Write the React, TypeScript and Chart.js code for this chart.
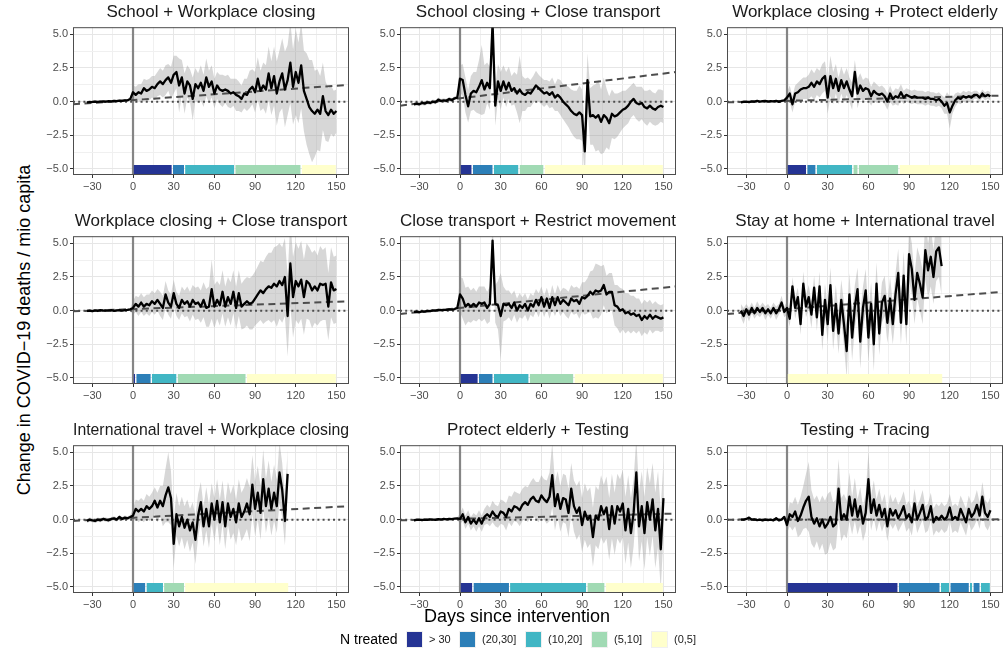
import React, { useEffect, useRef } from "react";
import { Chart, registerables } from "chart.js";

Chart.register(...registerables);

const FONT = '"Liberation Sans", Arial, Helvetica, sans-serif';

// ---------------- DATA ----------------
// sampled days: -34, -32, ..., 150
const DAYS: number[] = Array.from({ length: 93 }, (_, i) => -34 + 2 * i);

const TITLES = [
  "School + Workplace closing",
  "School closing + Close transport",
  "Workplace closing + Protect elderly",
  "Workplace closing + Close transport",
  "Close transport + Restrict movement",
  "Stay at home + International travel",
  "International travel + Workplace closing",
  "Protect elderly + Testing",
  "Testing + Tracing",
];

const X_MAJOR = [-30, 0, 30, 60, 90, 120, 150];
const X_MINOR = [-15, 15, 45, 75, 105, 135];
const Y_MAJOR = [-5, -2.5, 0, 2.5, 5];
const Y_MINOR = [-3.75, -1.25, 1.25, 3.75];

const LEGEND_LABELS = ["> 30", "(20,30]", "(10,20]", "(5,10]", "(0,5]"];
const LEGEND_COLORS = ["#253494", "#2C7FB8", "#41B6C4", "#A1DAB4", "#FFFFCC"];

// dashed trend line: value at left edge and at right edge of the panel
const TREND_START = [-0.2, -0.3, -0.05, -0.05, -0.25, -0.25, -0.1, -0.05, 0.0];
const TREND_END = [1.25, 2.2, 0.45, 0.7, 1.8, 1.4, 1.0, 0.45, 0.02];

const MEAN_SWC = [
  -0.05, -0.03, -0.02, 0.0, -0.02, 0.0, 0.02, 0.0, 0.03, 0.02,
  0.05, 0.04, 0.08, 0.06, 0.1, 0.1, 0.2, 0.7,
  0.5, 0.7, 0.6, 1.0, 0.8, 0.9, 1.1, 1.0, 1.3, 1.5,
  1.3, 1.6, 1.8, 1.4, 2.0, 2.2, 1.2, 1.8, 0.6, 1.5,
  1.2, 0.2, 1.3, 1.0, 1.4, 0.8, 1.8, 1.1, 1.5, 0.6,
  1.2, 0.9, 0.8, 0.9, 0.8, 0.6, 0.7, 0.5, 0.4, 0.2,
  0.6, 0.5, 0.9, 1.1, 0.7, 1.7, 0.8, 1.2, 0.9, 2.1,
  1.0, 1.9, 0.6, 1.5, 2.1, 0.9, 1.6, 2.9, 1.1, 2.2,
  1.4, 2.7, 0.8, 0.2, -0.4, -0.7, -0.9, -0.6, -0.9, 0.4,
  -0.7, -1.0, -0.6, -0.9, -0.7,
];
const CI_SWC = [
  0.1, 0.1, 0.1, 0.1, 0.1, 0.1, 0.1, 0.1, 0.1, 0.1,
  0.1, 0.1, 0.1, 0.1, 0.1, 0.1, 0.1, 0.5,
  0.6, 0.6, 0.7, 0.7, 0.8, 0.8, 0.8, 0.9, 0.9, 1.0,
  1.0, 1.1, 1.0, 1.2, 1.4, 1.2, 2.0, 1.3, 1.5, 1.2,
  1.2, 1.6, 1.2, 1.1, 1.3, 1.2, 1.4, 1.2, 1.2, 1.1,
  1.0, 1.1, 1.2, 1.0, 1.2, 1.1, 1.0, 1.2, 1.1, 1.0,
  1.1, 1.2, 1.4, 1.3, 1.5, 1.6, 1.5, 1.7, 1.8, 2.0,
  2.0, 2.2, 2.4, 2.3, 2.6, 2.8, 2.6, 3.0, 2.8, 3.2,
  3.0, 3.2, 3.0, 3.4, 3.5, 3.8, 3.2, 3.0, 2.8, 2.5,
  2.2, 2.0, 1.8, 1.7, 1.6,
];

const MEAN_SCCT = [
  -0.2, -0.15, -0.2, -0.1, -0.15, -0.05, -0.1, 0.0, -0.05, 0.15,
  0.05, 0.1, 0.05, 0.2, 0.1, 0.25, 0.3, 1.7,
  1.6, 0.5, -0.35, 0.6, 0.8, 0.7, 1.1, 1.6, 0.9, 1.4,
  1.0, 5.8, -0.3, 1.5, 0.8, 1.5, 0.9, 1.4, 0.8, 1.0,
  0.6, 0.9, 0.6, 0.5, 0.7, 0.6, 0.9, 1.2, 1.0, 0.8,
  0.6, 0.7, 0.5, 0.7, 0.3, 0.5, 0.3, 0.0, -0.2, -0.4,
  -0.7, -0.9, -1.0, -0.8, -1.0, -3.7, 1.6, -1.1, -1.0, -1.2,
  -1.0, -1.5, -1.0, -1.2, -1.6, -0.9, -1.1, -1.0, -0.8, -0.6,
  -0.5, -0.3, 0.0, 0.2, -0.1, -0.2, -0.1, -0.4, -0.5, -0.3,
  -0.5, -0.6, -0.4, -0.3, -0.4,
];
const CI_SCCT = [
  0.15, 0.15, 0.15, 0.15, 0.15, 0.15, 0.15, 0.15, 0.15, 0.15,
  0.15, 0.15, 0.15, 0.15, 0.15, 0.15, 0.15, 1.0,
  1.2, 1.3, 1.2, 1.3, 1.4, 1.5, 2.0, 2.6, 1.8, 1.5,
  1.6, 1.8, 1.5, 1.3, 1.4, 1.2, 1.3, 1.2, 1.1, 1.2,
  1.4, 2.5, 1.3, 1.2, 1.1, 1.0, 1.0, 1.1, 1.0, 1.0,
  1.0, 0.9, 1.0, 1.1, 1.0, 1.2, 1.3, 1.3, 1.4, 1.5,
  1.6, 1.7, 1.8, 2.0, 1.9, 2.0, 2.0, 2.1, 2.2, 2.5,
  2.6, 2.4, 2.8, 2.2, 2.0, 1.8, 1.7, 1.6, 1.5, 1.4,
  1.3, 1.3, 1.2, 1.2, 1.2, 1.3, 1.2, 1.2, 1.3, 1.2,
  1.2, 1.2, 1.3, 1.2, 1.2,
];

const MEAN_WCPE = [
  -0.05, -0.02, 0.0, -0.03, 0.02, 0.0, 0.05, 0.0, 0.03, 0.05,
  0.0, 0.04, 0.02, 0.05, -0.02, 0.05, 0.1, 0.3,
  0.6, -0.2, 0.6, 0.7, 0.9, 1.0, 1.0, 1.1, 1.4, 1.1,
  1.5, 1.3, 1.7, 1.9, 0.3, 1.9, 1.0, 1.7, 0.8, 1.6,
  1.0, 1.5, 0.9, 0.4, 2.2, 0.6, 1.2, 0.8, 1.0, 0.9,
  0.4, 0.8, 0.6, 0.5, 0.6, 0.4, 0.0, 0.6, 0.2, 0.4,
  0.3, 0.7, 0.3, 0.5, 0.4, 0.3, 0.4, 0.3, 0.3, 0.3,
  0.2, 0.3, 0.2, 0.2, 0.1, 0.2, 0.0, -0.3, -0.1, -0.8,
  -0.3, 0.1, 0.3, 0.2, 0.4, 0.3, 0.4, 0.3, 0.5, 0.5,
  0.3, 0.6, 0.4, 0.5, 0.4,
];
const CI_WCPE = [
  0.06, 0.06, 0.06, 0.06, 0.06, 0.06, 0.06, 0.06, 0.06, 0.06,
  0.06, 0.06, 0.06, 0.06, 0.06, 0.06, 0.06, 0.4,
  0.6, 0.6, 0.6, 0.7, 0.7, 0.8, 0.8, 0.9, 1.0, 1.0,
  1.0, 1.0, 1.1, 1.1, 1.2, 1.5, 1.2, 1.1, 1.0, 1.0,
  1.0, 1.0, 0.9, 1.0, 0.9, 1.1, 0.9, 0.8, 0.8, 0.8,
  0.7, 0.7, 0.7, 0.6, 0.6, 0.6, 0.6, 0.6, 0.5, 0.6,
  0.6, 0.6, 0.5, 0.5, 0.5, 0.5, 0.5, 0.5, 0.5, 0.5,
  0.5, 0.5, 0.5, 0.5, 0.5, 0.5, 0.5, 0.6, 0.8, 1.2,
  0.6, 0.5, 0.4, 0.4, 0.4, 0.4, 0.4, 0.4, 0.3, 0.3,
  0.3, 0.3, 0.3, 0.3, 0.3,
];

const MEAN_WCCT = [
  -0.02, 0.0, -0.03, 0.02, -0.02, 0.03, 0.0, 0.02, 0.0, 0.03,
  -0.01, 0.02, 0.04, 0.0, 0.03, 0.05, 0.1, 0.2,
  0.5, 0.3, 0.6, 0.3, 0.5, 0.4, 0.7, 0.5, 0.8, 0.5,
  0.2, 1.2, 0.6, 0.3, 1.3, 0.5, 0.2, 0.8, 0.5, 0.7,
  0.3, 0.8, 0.5, 0.6, 0.3, 0.8, 0.2, 0.3, 1.6, 0.3,
  0.8, 0.4, 1.4, 0.3, 1.0, 0.5, 1.4, 0.2, 1.3, 0.3,
  0.5, 0.7, 0.5, 0.6, 0.9, 1.2, 1.5, 1.3, 1.6, 1.8,
  1.7, 2.0, 1.8, 2.2, 1.9, 2.5, -0.4, 3.5, 1.0, 2.2,
  1.8, 2.3, 1.0, 2.2, 2.0, 1.5, 1.8, 1.5, 2.0, 1.9,
  2.0, 0.3, 2.1, 1.5, 1.6,
];
const CI_WCCT = [
  0.1, 0.1, 0.1, 0.1, 0.1, 0.1, 0.1, 0.1, 0.1, 0.1,
  0.1, 0.1, 0.1, 0.1, 0.1, 0.1, 0.1, 0.5,
  0.6, 0.7, 0.7, 0.7, 0.7, 0.8, 0.8, 0.8, 0.8, 0.9,
  0.9, 1.0, 0.9, 0.9, 1.0, 0.9, 0.9, 1.0, 1.0, 1.1,
  1.1, 1.1, 1.2, 1.2, 1.2, 1.3, 1.4, 1.5, 2.2, 1.6,
  1.4, 1.5, 1.6, 1.5, 1.5, 1.6, 1.6, 1.6, 1.7, 1.7,
  1.8, 1.8, 1.9, 2.0, 2.0, 2.1, 2.2, 2.3, 2.4, 2.5,
  2.6, 2.7, 3.0, 2.8, 2.8, 2.9, 3.0, 3.2, 3.0, 2.9,
  2.8, 2.9, 2.8, 2.8, 2.7, 2.8, 2.7, 2.6, 2.8, 2.6,
  2.7, 2.5, 2.6, 2.5, 2.5,
];

const MEAN_CTRM = [
  -0.1, -0.08, -0.12, -0.05, -0.08, -0.02, -0.04, 0.02, 0.0, 0.05,
  0.03, 0.06, 0.05, 0.1, 0.08, 0.12, 0.2, 1.2,
  0.9, 0.3, 0.5, 0.3, 0.5, 0.3, 0.6, 0.5, 0.6, 0.2,
  0.5, 5.2, 0.5, 0.4, -0.4, 0.5, 0.4, 0.5, 0.2, 0.6,
  0.0, 0.4, 0.2, 0.5, 0.0, 0.5, 0.3, 0.8, 0.4, 1.0,
  0.3, 0.9, 0.2, 1.0, 0.4, 1.0, 0.5, 0.8, 0.6, 0.4,
  0.9, 0.7, 0.8, 0.5, 1.0, 0.9, 1.1, 1.4, 1.2, 1.5,
  1.4, 1.5, 1.9, 1.2, 1.4, 1.4, 0.4, 0.3, 0.0, 0.1,
  -0.2, -0.1, -0.3, -0.2, -0.4, -0.3, -0.7, -0.4, -0.6, -0.3,
  -0.6, -0.4, -0.5, -0.6, -0.5,
];
const CI_CTRM = [
  0.1, 0.1, 0.1, 0.1, 0.1, 0.1, 0.1, 0.1, 0.1, 0.1,
  0.1, 0.1, 0.1, 0.1, 0.1, 0.1, 0.1, 1.3,
  1.5, 1.4, 1.3, 1.2, 1.2, 1.1, 1.2, 1.3, 1.2, 1.2,
  1.3, 1.5, 1.4, 1.8, 3.2, 1.3, 1.1, 1.0, 1.0, 0.9,
  0.9, 0.9, 0.8, 0.8, 0.8, 0.8, 0.8, 0.8, 0.9, 0.8,
  0.8, 0.8, 0.8, 0.9, 0.8, 0.9, 0.9, 0.9, 1.0, 1.0,
  1.0, 1.0, 1.0, 1.1, 1.1, 1.2, 1.3, 1.5, 1.8, 2.0,
  2.0, 1.8, 1.5, 1.4, 1.4, 1.4, 1.5, 1.6, 1.7, 1.5,
  1.5, 1.4, 1.4, 1.3, 1.3, 1.2, 1.2, 1.2, 1.2, 1.1,
  1.1, 1.1, 1.0, 1.0, 1.0,
];

const MEAN_SHIT = [
  0.0, -0.4, 0.1, -0.3, 0.2, -0.2, 0.2, -0.1, 0.2, -0.2,
  0.1, -0.2, 0.2, -0.2, 0.1, 0.6, -0.1, 0.2,
  -0.6, 1.8, 0.2, 1.0, -1.0, 2.0, 0.3, 1.0, -0.3, 1.7,
  -0.5, 1.8, -1.8, 0.8, -1.0, 1.9, -1.5, 0.5, -1.7, 0.8,
  -1.0, -3.0, 1.2, -2.0, 0.3, 1.6, -2.3, 0.2, 1.5, -2.0,
  0.5, -2.5, 2.0, -1.7, 0.6, 1.1, -0.9, 0.9, -1.0, 1.2,
  2.8, -0.9, 2.6, -1.0, 4.2, 3.1, 0.8, 2.8, 2.0, 1.0,
  4.5, 3.0, 4.0, 2.5, 4.4, 4.7, 3.3,
];
const CI_SHIT = [
  0.5, 0.6, 0.4, 0.5, 0.4, 0.4, 0.5, 0.4, 0.4, 0.5,
  0.4, 0.4, 0.4, 0.5, 0.4, 0.5, 0.4, 0.5,
  0.6, 0.7, 0.8, 0.7, 0.8, 0.9, 0.8, 0.9, 1.0, 0.9,
  1.0, 1.1, 1.2, 1.2, 1.3, 1.3, 1.4, 1.4, 1.5, 1.5,
  1.6, 2.0, 1.6, 1.7, 1.6, 1.6, 2.0, 1.6, 1.6, 1.8,
  1.6, 2.0, 1.6, 1.6, 1.5, 1.5, 1.5, 1.6, 1.5, 1.6,
  1.8, 1.6, 1.8, 1.6, 2.0, 1.9, 1.8, 1.9, 2.0, 2.0,
  2.2, 2.0, 2.2, 2.0, 2.2, 2.2, 2.2,
];

const MEAN_ITWC = [
  -0.1, 0.0, -0.05, -0.1, 0.0, -0.05, 0.05, 0.0, -0.05, 0.05,
  0.1, 0.0, 0.2, 0.05, 0.15, 0.1, 0.2, 0.3,
  0.8, 0.6, 0.8, 0.6, 1.0, 0.8, 1.0, 1.4, 0.9, 1.4,
  1.0, 1.8, 2.4, 1.6, -1.8, 0.4, -0.5, 0.2, -0.6, 0.0,
  -0.8, -0.2, -1.5, 0.3, 1.3, -0.5, 0.8, -0.5, 1.2, 0.0,
  1.4, -0.2, 1.3, -0.5, 1.2, 0.2, 0.8, -0.2, 1.2, 0.2,
  0.6, 1.2, 0.4, 2.6, 0.8, 2.0, 0.5, 3.0, 1.0, 2.3,
  0.8, 2.0, 1.0, 3.5, 2.2, -0.1, 3.4,
];
const CI_ITWC = [
  0.15, 0.15, 0.15, 0.15, 0.15, 0.15, 0.15, 0.15, 0.15, 0.15,
  0.15, 0.15, 0.15, 0.15, 0.15, 0.15, 0.15, 0.5,
  0.7, 0.8, 0.8, 0.8, 0.9, 0.9, 1.0, 1.0, 1.1, 1.1,
  1.5, 2.0, 2.6, 2.0, 1.8, 1.6, 1.5, 1.5, 1.6, 1.5,
  1.6, 1.5, 1.8, 1.6, 1.5, 1.5, 1.6, 1.6, 1.5, 1.6,
  1.6, 1.7, 1.6, 1.7, 1.6, 1.7, 1.8, 1.7, 1.8, 1.8,
  1.8, 1.9, 2.0, 2.2, 2.0, 2.0, 2.0, 2.2, 2.0, 2.1,
  2.0, 2.1, 2.0, 2.3, 2.0, 1.8, 1.8,
];

const MEAN_PET = [
  -0.05, -0.02, 0.0, -0.03, 0.0, -0.02, 0.02, 0.0, -0.02, 0.03,
  0.0, 0.05, 0.02, 0.06, 0.03, 0.08, 0.1, 0.05,
  0.4, -0.2, 0.2, -0.3, 0.0, -0.3, 0.1, -0.3, 0.2, 0.4,
  0.2, 0.6, 0.3, 0.2, 0.6, 0.5, 0.2, 0.8, 0.6, 1.0,
  0.9, 0.7, 1.1, 1.3, 1.1, 1.5, 1.7, 1.4, 1.3, 1.8,
  1.5, 1.3, 1.7, 3.3, 1.0, 1.9, 0.8, 1.6, 1.5, 0.5,
  2.3, 1.0, 0.5, 0.9, -0.4, 0.6, 0.0, 0.3, -1.3, 0.3,
  0.0, 1.0, 0.4, 0.9, -0.7, 1.0, -0.3, 1.0, 0.6, 1.2,
  -0.8, 0.8, -1.0, 0.5, 3.5, -0.5, 1.0, -1.0, 1.3, 0.0,
  1.5, -0.8, 0.8, -2.2, 1.6,
];
const CI_PET = [
  0.08, 0.08, 0.08, 0.08, 0.08, 0.08, 0.08, 0.08, 0.08, 0.08,
  0.08, 0.08, 0.08, 0.08, 0.08, 0.08, 0.08, 0.4,
  0.5, 0.5, 0.5, 0.5, 0.5, 0.6, 0.6, 0.6, 0.6, 0.7,
  0.7, 0.8, 0.8, 0.8, 0.9, 0.9, 1.0, 1.0, 1.1, 1.1,
  1.1, 1.2, 1.2, 1.2, 1.3, 1.3, 1.4, 1.4, 1.5, 1.5,
  1.5, 1.6, 1.8, 2.4, 1.8, 1.7, 1.7, 1.8, 1.8, 1.8,
  1.9, 1.9, 2.0, 2.0, 2.0, 2.1, 2.1, 2.1, 2.2, 2.2,
  2.2, 2.3, 2.2, 2.3, 2.3, 2.4, 2.3, 2.4, 2.4, 2.5,
  2.5, 2.5, 2.6, 2.5, 2.6, 2.6, 2.6, 2.7, 2.6, 2.7,
  2.7, 2.8, 2.8, 3.0, 2.8,
];

const MEAN_TT = [
  0.0, 0.0, 0.05, 0.15, 0.0, 0.02, -0.03, 0.0, -0.05, 0.0,
  -0.03, 0.0, -0.05, 0.1, -0.05, 0.0, 0.2, -0.4,
  0.4, 0.2, 0.6, -0.1, 0.3, 0.9, 1.4, 1.7, 0.2, -0.3,
  0.1, -0.5, 0.0, -0.6, -0.3, 0.2, -0.5, -0.3, 2.3, 0.0,
  0.4, 0.0, 1.7, 0.3, 1.5, 0.2, 1.0, -0.3, 0.5, 3.0,
  0.5, 1.5, 0.3, 1.1, 0.2, 0.8, -0.5, 0.8, 0.3, 0.7,
  0.1, 0.5, 1.0, 0.1, 0.4, -0.2, 1.2, 0.0, 0.5, 1.1,
  0.0, 0.2, 1.0, -0.2, 0.2, 0.0, 0.3, 0.0, 0.2, 0.9,
  0.0, 0.2, 0.0, 0.8, 0.3, -0.2, 0.8, 0.2, 0.5, 1.1,
  0.3, 1.7, 0.5, 0.2, 0.7,
];
const CI_TT = [
  0.08, 0.08, 0.08, 0.08, 0.08, 0.08, 0.08, 0.08, 0.08, 0.08,
  0.08, 0.08, 0.08, 0.08, 0.08, 0.08, 0.08, 0.6,
  0.9, 1.0, 1.1, 1.2, 1.4, 1.6, 2.0, 2.6, 2.0, 1.8,
  1.7, 1.8, 1.8, 2.0, 2.2, 1.9, 1.8, 1.8, 2.2, 1.6,
  1.5, 1.4, 1.8, 1.4, 1.6, 1.3, 1.4, 1.3, 1.4, 2.0,
  1.3, 1.4, 1.2, 1.2, 1.1, 1.1, 1.1, 1.1, 1.0, 1.0,
  1.0, 1.0, 1.1, 1.0, 1.0, 1.0, 1.1, 1.0, 1.0, 1.1,
  1.0, 1.0, 1.0, 1.0, 1.0, 1.0, 1.0, 1.0, 1.0, 1.0,
  1.0, 1.0, 1.0, 1.0, 1.0, 1.0, 1.0, 1.0, 1.0, 1.1,
  1.0, 1.1, 1.0, 1.0, 1.0,
];

// treated-count segments: [start day, end day, category index into LEGEND_LABELS]
const SEG_SWC = [[0, 29, 0], [29, 38, 1], [38, 75, 2], [75, 124, 3], [124, 150, 4]];
const SEG_SCCT = [[0, 9, 0], [9, 24.5, 1], [24.5, 43.5, 2], [43.5, 62, 3], [62, 150, 4]];
const SEG_WCPE = [[0, 14.5, 0], [14.5, 21.5, 1], [21.5, 48.5, 2], [48.5, 52.5, 3], [52.5, 82.5, 3], [82.5, 150, 4]];
const SEG_WCCT = [[0, 2, 0], [2, 13.5, 1], [13.5, 32.5, 2], [32.5, 83.5, 3], [83.5, 150, 4]];
const SEG_CTRM = [[0, 13.5, 0], [13.5, 24.5, 1], [24.5, 51, 2], [51, 84, 3], [84, 150, 4]];
const SEG_SHIT = [[0, 115, 4]];
const SEG_ITWC = [[0, 9.5, 1], [9.5, 22.5, 2], [22.5, 38, 3], [38, 115, 4]];
const SEG_PET = [[0, 9.5, 0], [9.5, 36.5, 1], [36.5, 93.5, 2], [93.5, 107, 3], [107, 150, 4]];
const SEG_TT = [[0, 82, 0], [82, 113, 1], [113, 120, 2], [120, 134.5, 1], [134.5, 137, 2], [137, 142.5, 1], [142.5, 150, 2]];

const MEANS = [MEAN_SWC, MEAN_SCCT, MEAN_WCPE, MEAN_WCCT, MEAN_CTRM, MEAN_SHIT, MEAN_ITWC, MEAN_PET, MEAN_TT];
const CIS = [CI_SWC, CI_SCCT, CI_WCPE, CI_WCCT, CI_CTRM, CI_SHIT, CI_ITWC, CI_PET, CI_TT];
const SEGS = [SEG_SWC, SEG_SCCT, SEG_WCPE, SEG_WCCT, SEG_CTRM, SEG_SHIT, SEG_ITWC, SEG_PET, SEG_TT];

// ---------------- LAYOUT ----------------
const X_MIN = -44.25;
const X_MAX = 159.25;
const Y_MIN = -5.45;
const Y_MAX = 5.53;
const TILE_TOP = -4.7;
const TILE_BOTTOM = -5.37;
const COL_LEFT = [35, 362, 689];
const ROW_TOP = [0, 209, 418];
const CANVAS_W = 316;
const CANVAS_H = 195;

const fmtX = (v: number) => (v < 0 ? "\u2212" + Math.abs(v) : String(v));
const fmtY = (v: number) => (v < 0 ? "\u2212" + Math.abs(v).toFixed(1) : v.toFixed(1));

const framePlugin = {
  id: "frame",
  afterDatasetsDraw(chart: any) {
    const { ctx, chartArea: a } = chart;
    ctx.save();
    ctx.strokeStyle = "#4D4D4D";
    ctx.lineWidth = 1;
    ctx.strokeRect(a.left + 0.5, a.top + 0.5, a.right - a.left - 1, a.bottom - a.top - 1);
    ctx.restore();
  },
};

function Panel({ idx }: { idx: number }) {
  const ref = useRef<HTMLCanvasElement | null>(null);
  useEffect(() => {
    if (!ref.current) return;
    const mean = MEANS[idx];
    const ci = CIS[idx];
    const segs = SEGS[idx];
    const line = mean.map((v, i) => ({ x: DAYS[i], y: v }));
    const upper = mean.map((v, i) => ({ x: DAYS[i], y: v + ci[i] }));
    const lower = mean.map((v, i) => ({ x: DAYS[i], y: v - ci[i] }));

    const datasets: any[] = [];
    datasets.push({
      data: line,
      borderColor: "#000000",
      borderWidth: 2.3,
      order: 1,
    });
    segs.forEach((s) => {
      datasets.push({
        data: [
          { x: s[0] + 0.4, y: TILE_TOP },
          { x: s[1] - 0.4, y: TILE_TOP },
        ],
        borderColor: "rgba(0,0,0,0)",
        borderWidth: 0,
        backgroundColor: LEGEND_COLORS[s[2]],
        fill: { value: TILE_BOTTOM },
        order: 2,
      });
    });
    datasets.push({
      data: [
        { x: X_MIN, y: TREND_START[idx] },
        { x: X_MAX, y: TREND_END[idx] },
      ],
      borderColor: "#4D4D4D",
      borderWidth: 2,
      borderDash: [7, 4.5],
      order: 3,
    });
    datasets.push({
      data: [
        { x: 0, y: Y_MIN },
        { x: 0, y: Y_MAX },
      ],
      borderColor: "#858585",
      borderWidth: 2.2,
      order: 4,
    });
    datasets.push({
      data: [
        { x: X_MIN, y: 0 },
        { x: X_MAX, y: 0 },
      ],
      borderColor: "#4D4D4D",
      borderWidth: 2,
      borderDash: [2, 3.2],
      order: 5,
    });
    const upperIdx = datasets.length;
    datasets.push({
      data: upper,
      borderColor: "rgba(0,0,0,0)",
      borderWidth: 0,
      backgroundColor: "rgba(150,150,150,0.38)",
      fill: upperIdx + 1,
      order: 6,
    });
    datasets.push({
      data: lower,
      borderColor: "rgba(0,0,0,0)",
      borderWidth: 0,
      fill: false,
      order: 7,
    });

    const gridColor = (ctx: any) => {
      const v = ctx.tick ? ctx.tick.value : 0;
      return X_MAJOR.includes(v) || Y_MAJOR.includes(v) ? "#E6E6E6" : "#F0F0F0";
    };

    const chart = new Chart(ref.current, {
      type: "line",
      data: { datasets },
      plugins: [framePlugin],
      options: {
        animation: false,
        responsive: false,
        devicePixelRatio: 1,
        events: [],
        layout: { padding: { left: 0, right: 2, top: 0, bottom: 0 } },
        elements: {
          point: { radius: 0, hoverRadius: 0 },
          line: { tension: 0, borderJoinStyle: "round" as any },
        },
        plugins: {
          legend: { display: false },
          tooltip: { enabled: false },
          title: {
            display: true,
            text: TITLES[idx],
            color: "#1A1A1A",
            fullSize: false,
            font: { size: 17, family: FONT, weight: "normal" as any, lineHeight: 1.07 },
            padding: { top: 3, bottom: 6 },
          },
        },
        scales: {
          x: {
            type: "linear",
            min: X_MIN,
            max: X_MAX,
            afterBuildTicks: (s: any) => {
              s.ticks = [...X_MAJOR, ...X_MINOR].sort((a, b) => a - b).map((v) => ({ value: v }));
            },
            afterFit: (s: any) => {
              s.height = 20;
            },
            ticks: {
              autoSkip: false,
              maxRotation: 0,
              padding: 2,
              color: "#4D4D4D",
              font: { size: 11, family: FONT },
              callback: (v: any) => (X_MAJOR.includes(Number(v)) ? fmtX(Number(v)) : ""),
            },
            grid: {
              color: gridColor,
              lineWidth: 1,
              tickLength: 3,
              tickColor: (ctx: any) =>
                ctx.tick && X_MAJOR.includes(ctx.tick.value) ? "#333333" : "rgba(0,0,0,0)",
            },
            border: { display: false },
          },
          y: {
            type: "linear",
            min: Y_MIN,
            max: Y_MAX,
            afterBuildTicks: (s: any) => {
              s.ticks = [...Y_MAJOR, ...Y_MINOR].sort((a, b) => a - b).map((v) => ({ value: v }));
            },
            afterFit: (s: any) => {
              s.width = 38;
            },
            ticks: {
              autoSkip: false,
              padding: 2,
              color: "#4D4D4D",
              font: { size: 11, family: FONT },
              callback: (v: any) => (Y_MAJOR.includes(Number(v)) ? fmtY(Number(v)) : ""),
            },
            grid: {
              color: gridColor,
              lineWidth: 1,
              tickLength: 3,
              tickColor: (ctx: any) =>
                ctx.tick && Y_MAJOR.includes(ctx.tick.value) ? "#333333" : "rgba(0,0,0,0)",
            },
            border: { display: false },
          },
        },
      } as any,
    });
    return () => chart.destroy();
  }, [idx]);

  const col = idx % 3;
  const row = Math.floor(idx / 3);
  return (
    <canvas
      ref={ref}
      width={CANVAS_W}
      height={CANVAS_H}
      style={{
        position: "absolute",
        left: COL_LEFT[col],
        top: ROW_TOP[row],
        width: CANVAS_W,
        height: CANVAS_H,
      }}
    />
  );
}

const LEGEND_BOX_X = [406, 459, 525, 591, 651];

export default function App() {
  return (
    <div
      style={{
        position: "fixed",
        left: 0,
        top: 0,
        width: 1005,
        height: 653,
        background: "#ffffff",
        overflow: "hidden",
        fontFamily: FONT,
      }}
    >
      {TITLES.map((_, i) => (
        <Panel key={i} idx={i} />
      ))}
      <div
        style={{
          position: "absolute",
          left: 24,
          top: 330,
          transform: "translate(-50%, -50%) rotate(-90deg)",
          whiteSpace: "nowrap",
          fontSize: 18,
          color: "#000",
          lineHeight: "20px",
        }}
      >
        Change in COVID{"\u2212"}19 deaths / mio capita
      </div>
      <div
        style={{
          position: "absolute",
          left: 517,
          top: 616,
          transform: "translate(-50%, -50%)",
          whiteSpace: "nowrap",
          fontSize: 18,
          color: "#000",
          lineHeight: "20px",
        }}
      >
        Days since intervention
      </div>
      <div
        style={{
          position: "absolute",
          left: 340,
          top: 639,
          transform: "translateY(-50%)",
          whiteSpace: "nowrap",
          fontSize: 14,
          color: "#000",
          lineHeight: "16px",
        }}
      >
        N treated
      </div>
      {LEGEND_LABELS.map((lab, i) => (
        <React.Fragment key={lab}>
          <div
            style={{
              position: "absolute",
              left: LEGEND_BOX_X[i],
              top: 631,
              width: 17,
              height: 17,
              background: LEGEND_COLORS[i],
              boxSizing: "border-box",
              border: "1px solid #F0F0F0",
            }}
          />
          <div
            style={{
              position: "absolute",
              left: LEGEND_BOX_X[i] + 23,
              top: 639,
              transform: "translateY(-50%)",
              whiteSpace: "nowrap",
              fontSize: 11,
              color: "#1A1A1A",
              lineHeight: "13px",
            }}
          >
            {lab}
          </div>
        </React.Fragment>
      ))}
    </div>
  );
}
